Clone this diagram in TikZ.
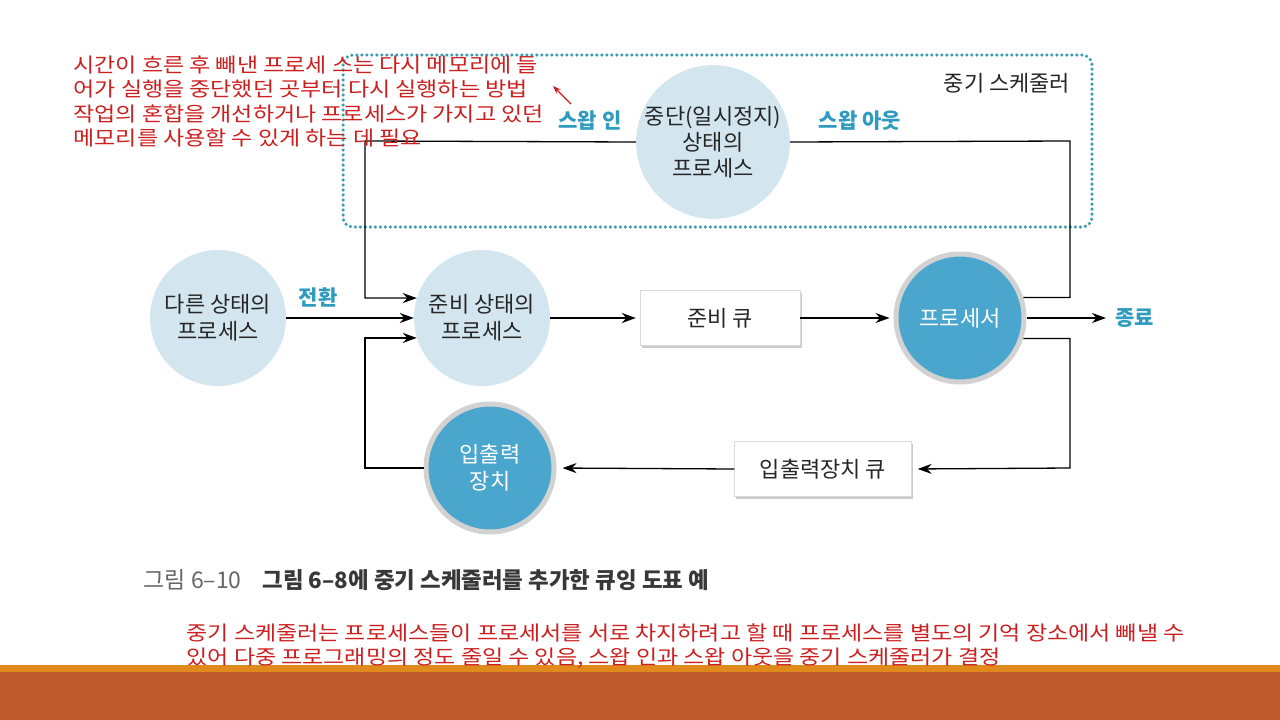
\documentclass[tikz,border=0pt]{standalone}
\usepackage{fontspec}
\setmainfont{Noto Sans CJK KR}
\newfontfamily\memofont[FakeStretch=1.15]{Noto Sans CJK KR}
\usetikzlibrary{arrows.meta,positioning,shadows}
\definecolor{paleblue}{HTML}{D3E6EF}
\definecolor{cpublue}{HTML}{4AA6CD}
\definecolor{ringgray}{HTML}{D2D2D2}
\definecolor{tealtxt}{HTML}{2E9BBF}
\definecolor{dotteal}{HTML}{3A9DAE}
\definecolor{notered}{HTML}{CC1F1F}
\definecolor{barorange}{HTML}{E0891D}
\definecolor{barbrown}{HTML}{BE5A2C}

\begin{document}
\begin{tikzpicture}[x=1pt, y=-1pt, >={Stealth[length=14pt,width=10pt]},
  every node/.style={font=\fontsize{22}{27}\selectfont, text=black!85},
  pale/.style={circle, fill=paleblue, minimum size=136pt, align=center, inner sep=0pt},
  dev/.style={circle, fill=cpublue, draw=ringgray, line width=5pt, minimum size=128pt,
    align=center, inner sep=0pt, text=white},
  queue/.style={draw=black!15, fill=white, minimum height=55pt,
    drop shadow={shadow xshift=1.5pt, shadow yshift=-2.5pt, fill=black!40, opacity=.5}},
  lbl/.style={text=tealtxt, font=\fontsize{21}{25}\selectfont\bfseries},
  arr/.style={->, line width=1.3pt},
  line/.style={line width=1.3pt},
  note/.style={text=notered, align=left, font=\memofont\fontsize{20}{24.5}\selectfont}]
  \useasboundingbox (0,0) rectangle (1280,720);
  \fill[white] (0,0) rectangle (1280,720);
  \fill[barorange] (0,665) rectangle (1280,672);
  \fill[barbrown] (0,672) rectangle (1280,720);

  % 중기 스케줄러 영역
  \draw[dotteal, line width=3.5pt, line cap=round, dash pattern=on 0pt off 5pt,
    rounded corners=10pt] (343,55) rectangle (1092,227);
  \node (mts) at (1007,83) {중기 스케줄러};

  \node[pale] (susp) at (713,142) {중단(일시정지)\\[-1pt]상태의\\[-1pt]프로세스};
  \node[pale] (other) at (218,318) {다른 상태의\\프로세스};
  \node[pale] (ready) at (482,318) {준비 상태의\\프로세스};
  \node[queue, minimum width=160pt] (rq) at (720,318) {준비 큐};
  \node[dev] (cpu) at (960,318) {프로세서};
  \node[lbl, anchor=west] (done) at (1112,318) {종료};
  \node[queue, minimum width=177pt] (ioq) at (823,469) {입출력장치 큐};
  \node[dev] (io) at (490,468) {입출력\\장치};

  \node[lbl] (swin) at (590,121) {스왑 인};
  \node[lbl] (swout) at (860,121) {스왑 아웃};
  \node[lbl] (conv) at (318,297) {전환};

  \coordinate (tl) at (365,141);
  \coordinate (tr) at (1070,141);
  \coordinate (br) at (1070,468);
  \coordinate (bl) at (365,468);

  \draw[arr] (other) -- (ready);
  \draw[arr, shorten >=4pt] (ready) -- (rq);
  \draw[arr, shorten >=4pt] (rq) -- (cpu);
  \draw[arr, shorten >=6pt] (cpu) -- (done);
  \draw[line] (cpu.18) -| (tr) -- (susp.east);
  \draw[arr] (susp.west) -- (tl) |- (ready.163);
  \draw[arr, shorten >=6pt] (cpu.-18) -| (br) -- (ioq.east);
  \draw[arr, shorten >=6pt] (ioq.west) -- (io.east);
  \draw[arr] (io.west) -- (bl) |- (ready.197);

  % 캡션
  \node[anchor=west, text=black!60, font=\fontsize{23}{27}\selectfont] (capno) at (140,580) {그림 6–10};
  \node[anchor=west, text=black!78, font=\fontsize{22.4}{27}\selectfont\bfseries] (cap) at (259,580)
    {그림 6–8에 중기 스케줄러를 추가한 큐잉 도표 예};

  % 메모
  \node[note, anchor=north west] (memo) at (70,52)
    {시간이 흐른 후 빼낸 프로세 스는 다시 메모리에 들\\
     어가 실행을 중단했던 곳부터 다시 실행하는 방법\\
     작업의 혼합을 개선하거나 프로세스가 가지고 있던\\
     메모리를 사용할 수 있게 하는 데 필요};
  \coordinate (memotail) at (571,104);
  \coordinate (memotip) at (553,86);
  \draw[->, notered, line width=1.2pt, >={Stealth[length=8pt,width=6pt]}] (memotail) -- (memotip);
  \node[note, anchor=north west] (memo2) at (183,620)
    {중기 스케줄러는 프로세스들이 프로세서를 서로 차지하려고 할 때 프로세스를 별도의 기억 장소에서 빼낼 수\\
     있어 다중 프로그래밍의 정도 줄일 수 있음, 스왑 인과 스왑 아웃을 중기 스케줄러가 결정};
\end{tikzpicture}
\end{document}
